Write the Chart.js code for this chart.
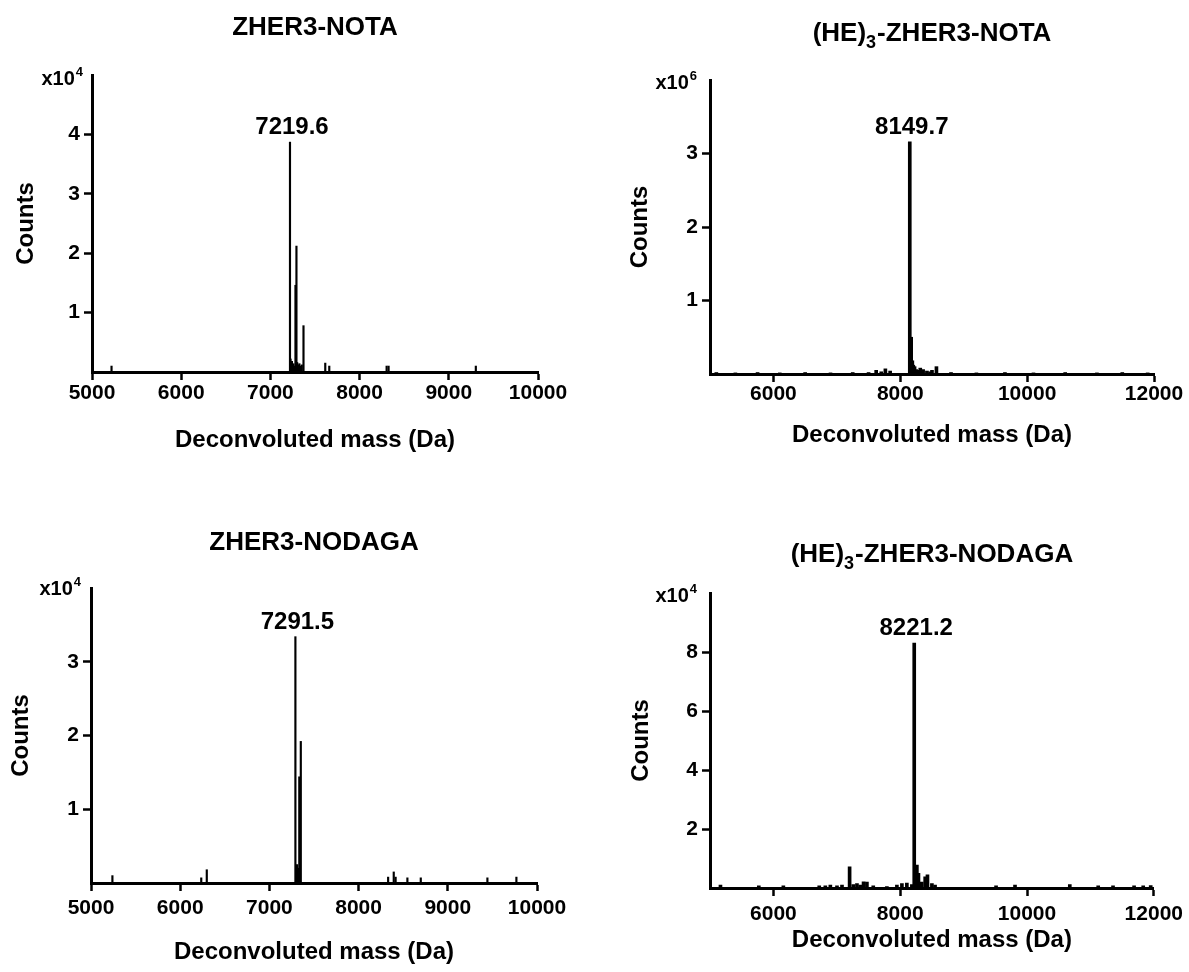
<!DOCTYPE html>
<html>
<head>
<meta charset="utf-8">
<script src="https://cdn.jsdelivr.net/npm/chart.js@4.4.0/dist/chart.umd.min.js"></script>
<style>
  body { margin: 0; background: #fff; width: 1189px; height: 972px; position: relative; overflow: hidden; }
  canvas { position: absolute; }
</style>
</head>
<body>
<canvas id="c1" width="594" height="470" style="left:0px;top:0px"></canvas>
<canvas id="c2" width="595" height="470" style="left:594px;top:0px"></canvas>
<canvas id="c3" width="594" height="486" style="left:0px;top:486px"></canvas>
<canvas id="c4" width="595" height="486" style="left:594px;top:486px"></canvas>
<script>
const FONT = "'Liberation Sans', Arial, Helvetica, sans-serif";

// ZHER3-NOTA, counts x10^4
const notaMass = [5219, 7219.6, 7226, 7233, 7241, 7249, 7258, 7266, 7281, 7292, 7300, 7312, 7325, 7340, 7352, 7371, 7615, 7660, 8303, 8325, 9303];
const notaCounts = [0.1, 3.87, 0.22, 0.15, 0.18, 0.12, 0.14, 0.1, 1.46, 2.12, 0.16, 0.12, 0.14, 0.1, 0.12, 0.78, 0.15, 0.1, 0.1, 0.1, 0.1];

// (HE)3-ZHER3-NOTA, counts x10^6
const heNotaMass = [5100, 5400, 5750, 6100, 6500, 6900, 7250, 7500, 7620, 7700, 7765, 7840, 8149.7, 8172, 8190, 8205, 8225, 8250, 8290, 8315, 8360, 8420, 8470, 8500, 8570, 8800, 9200, 9650, 10100, 10600, 11100, 11500, 11900];
const heNotaCounts = [0.02, 0.015, 0.02, 0.015, 0.02, 0.015, 0.02, 0.02, 0.05, 0.03, 0.07, 0.04, 3.16, 0.5, 0.18, 0.12, 0.1, 0.06, 0.05, 0.08, 0.06, 0.04, 0.03, 0.05, 0.1, 0.02, 0.015, 0.02, 0.015, 0.02, 0.015, 0.02, 0.015];

// ZHER3-NODAGA, counts x10^4
const nodagaMass = [5240, 6236, 6298, 7291.5, 7310, 7322, 7335, 7352, 8331, 8394, 8415, 8547, 8697, 9444, 9769];
const nodagaCounts = [0.1, 0.07, 0.18, 3.34, 0.25, 0.2, 1.44, 1.92, 0.08, 0.15, 0.08, 0.07, 0.07, 0.07, 0.08];

// (HE)3-ZHER3-NODAGA, counts x10^4
const heNodagaMass = [5165, 5770, 6157, 6723, 6819, 6898, 7003, 7082, 7202, 7260, 7318, 7370, 7422, 7475, 7575, 7790, 7948, 8027, 8105, 8184, 8221.2, 8263, 8288, 8340, 8394, 8430, 8500, 8550, 9512, 9811, 10675, 11123, 11357, 11689, 11833, 11951];
const heNodagaCounts = [0.1, 0.07, 0.07, 0.07, 0.07, 0.1, 0.07, 0.1, 0.72, 0.12, 0.15, 0.1, 0.21, 0.2, 0.07, 0.05, 0.1, 0.15, 0.17, 0.12, 8.3, 0.78, 0.5, 0.2, 0.38, 0.45, 0.15, 0.1, 0.07, 0.1, 0.12, 0.07, 0.07, 0.07, 0.07, 0.08];

// tick labels
const xTicksShort = [5000, 6000, 7000, 8000, 9000, 10000];
const xTicksLong = [6000, 8000, 10000, 12000];
const yTicksNota = [1, 2, 3, 4];
const yTicksHeNota = [1, 2, 3];
const yTicksNodaga = [1, 2, 3];
const yTicksHeNodaga = [2, 4, 6, 8];

// title pieces: [before, subscript, after]
const titleNota = ['ZHER3-NOTA', '', ''];
const titleHeNota = ['(HE)', '3', '-ZHER3-NOTA'];
const titleNodaga = ['ZHER3-NODAGA', '', ''];
const titleHeNodaga = ['(HE)', '3', '-ZHER3-NODAGA'];

const msLabels = {
  id: 'msLabels',
  afterDraw(chart, args, o) {
    const ctx = chart.ctx, a = chart.chartArea;
    const xs = chart.scales.x, ys = chart.scales.y;
    ctx.save();
    ctx.fillStyle = '#000';
    ctx.textBaseline = 'alphabetic';
    ctx.textAlign = 'left';

    // panel title, centred over the plot area
    const big = 'bold 26px ' + FONT, small = 'bold 18px ' + FONT;
    ctx.font = big;
    let w0 = ctx.measureText(o.title[0]).width;
    let w2 = ctx.measureText(o.title[2]).width;
    ctx.font = small;
    let w1 = o.title[1] ? ctx.measureText(o.title[1]).width + 1 : 0;
    let tx = (a.left + a.right) / 2 - (w0 + w1 + w2) / 2;
    ctx.font = big;
    ctx.fillText(o.title[0], tx, o.titleY);
    ctx.font = small;
    if (o.title[1]) ctx.fillText(o.title[1], tx + w0, o.titleY + 7);
    ctx.font = big;
    ctx.fillText(o.title[2], tx + w0 + w1, o.titleY);

    // x10^n multiplier at top of the y axis
    ctx.font = 'bold 20px ' + FONT;
    const mw = ctx.measureText('x10').width;
    ctx.font = 'bold 13px ' + FONT;
    const ew = ctx.measureText(o.exp).width;
    const mx = a.left - o.multGap - ew - mw;
    ctx.font = 'bold 20px ' + FONT;
    ctx.fillText('x10', mx, a.top + o.multDy);
    ctx.font = 'bold 13px ' + FONT;
    ctx.fillText(o.exp, mx + mw + 1, a.top + o.multDy - 9);

    // label of the tallest peak
    const data = chart.data.datasets[0].data;
    let top = data[0];
    data.forEach(p => { if (p.y > top.y) top = p; });
    ctx.font = 'bold 24px ' + FONT;
    ctx.textAlign = 'center';
    ctx.fillText(top.x.toFixed(1), xs.getPixelForValue(top.x) + 2, ys.getPixelForValue(top.y) - 8);
    ctx.restore();
  }
};

function spectrum(id, p) {
  const pts = p.mass.map((m, i) => ({ x: m, y: p.counts[i] }));
  new Chart(document.getElementById(id), {
    type: 'bar',
    data: {
      datasets: [{
        data: pts,
        backgroundColor: '#000',
        borderWidth: 0,
        barThickness: p.bar
      }]
    },
    plugins: [msLabels],
    options: {
      responsive: false,
      animation: false,
      events: [],
      layout: { padding: { top: p.top, left: 0, right: p.right, bottom: 0 } },
      plugins: {
        legend: { display: false },
        tooltip: { enabled: false },
        title: { display: false },
        msLabels: { title: p.title, titleY: p.titleY, exp: p.exp, multGap: p.multGap, multDy: p.multDy }
      },
      scales: {
        x: {
          type: 'linear',
          min: p.xMin,
          max: p.xMax,
          offset: false,
          afterBuildTicks: s => { s.ticks = p.xTicks.map(v => ({ value: v })); },
          afterFit: s => { s.height = p.xH; },
          grid: { display: true, offset: false, drawOnChartArea: false, drawTicks: true, tickLength: 8, tickWidth: 2.5, color: '#000' },
          border: { display: true, color: '#000', width: 3 },
          ticks: {
            autoSkip: false, maxRotation: 0, padding: p.xPad, color: '#000',
            font: { family: FONT, size: 21, weight: 'bold' },
            callback: v => String(v)
          },
          title: {
            display: true, text: 'Deconvoluted mass (Da)', color: '#000',
            font: { family: FONT, size: 24, weight: 'bold' },
            padding: { top: 0, bottom: p.xTitlePad }
          }
        },
        y: {
          min: 0,
          max: p.yMax,
          afterBuildTicks: s => { s.ticks = p.yTicks.map(v => ({ value: v })); },
          afterFit: s => { s.width = p.yW; },
          grid: { display: true, drawOnChartArea: false, drawTicks: true, tickLength: 8, tickWidth: 2.5, color: '#000' },
          border: { display: true, color: '#000', width: 3 },
          ticks: {
            padding: 4, color: '#000',
            font: { family: FONT, size: 21, weight: 'bold' },
            callback: v => String(v)
          },
          title: {
            display: true, text: 'Counts', color: '#000',
            font: { family: FONT, size: 24, weight: 'bold' },
            padding: { top: p.yTitlePad, bottom: 0 }
          }
        }
      }
    }
  });
}

spectrum('c1', {
  mass: notaMass, counts: notaCounts, bar: 1.5, title: titleNota, titleY: 35,
  exp: '4', multGap: 10, multDy: 10,
  top: 75, right: 56, yW: 92, xH: 98, xPad: 1, xTitlePad: 15, yTitlePad: 12,
  xMin: 5000, xMax: 10000, xTicks: xTicksShort, yMax: 5, yTicks: yTicksNota
});
spectrum('c2', {
  mass: heNotaMass, counts: heNotaCounts, bar: 3, title: titleHeNota, titleY: 41,
  exp: '6', multGap: 14, multDy: 9,
  top: 80, right: 35, yW: 116, xH: 96, xPad: 0, xTitlePad: 20, yTitlePad: 32,
  xMin: 5000, xMax: 12000, xTicks: xTicksLong, yMax: 4, yTicks: yTicksHeNota
});
spectrum('c3', {
  mass: nodagaMass, counts: nodagaCounts, bar: 1.5, title: titleNodaga, titleY: 64,
  exp: '4', multGap: 11, multDy: 7,
  top: 102, right: 57, yW: 91, xH: 89, xPad: 5, xTitlePad: 5, yTitlePad: 7,
  xMin: 5000, xMax: 10000, xTicks: xTicksShort, yMax: 4, yTicks: yTicksNodaga
});
spectrum('c4', {
  mass: heNodagaMass, counts: heNodagaCounts, bar: 3, title: titleHeNodaga, titleY: 76,
  exp: '4', multGap: 14, multDy: 9,
  top: 107, right: 35, yW: 116, xH: 84, xPad: 6, xTitlePad: 17, yTitlePad: 33,
  xMin: 5000, xMax: 12000, xTicks: xTicksLong, yMax: 10, yTicks: yTicksHeNodaga
});
</script>
</body>
</html>
